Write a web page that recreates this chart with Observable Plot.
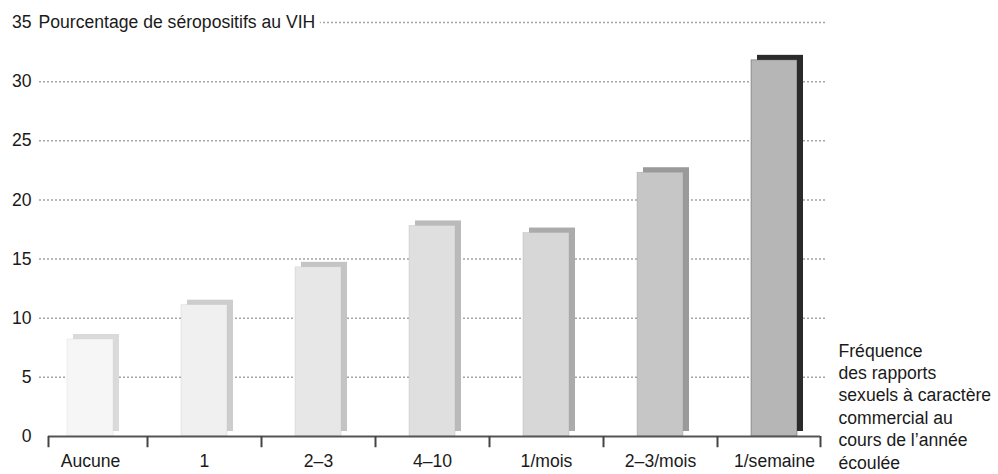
<!DOCTYPE html>
<html>
<head>
<meta charset="utf-8">
<script src="https://cdn.jsdelivr.net/npm/d3@7"></script>
<script src="https://cdn.jsdelivr.net/npm/@observablehq/plot@0.6"></script>
<style>
  html, body { margin: 0; padding: 0; background: #fff; }
  #chart svg { display: block; }
</style>
</head>
<body>
<div id="chart"></div>
<script>
// ---- data ----
const categories = ["Aucune", "1", "2–3", "4–10", "1/mois", "2–3/mois", "1/semaine"];
const values = [8.2, 11.1, 14.3, 17.8, 17.2, 22.3, 31.8];
const yTicks = [0, 5, 10, 15, 20, 25, 30, 35];
const yTitle = "Pourcentage de séropositifs au VIH";
const xTitleLines = ["Fréquence", "des rapports", "sexuels à caractère", "commercial au", "cours de l’année", "écoulée"];

const data = categories.map((c, i) => ({cat: c, value: values[i]}));

// ---- styles ----
const frontFill = ["#f6f6f6", "#f0f0f0", "#e7e7e7", "#dfdfdf", "#d7d7d7", "#c6c6c6", "#b6b6b6"];
const backFill  = ["#dadada", "#cdcdcd", "#c4c4c4", "#bababa", "#ababab", "#9a9a9a", "#2b2b2b"];
const idx = new Map(categories.map((c, i) => [c, i]));
const step = (998 - 33 - 167) / categories.length;
const fs = 17.6;

const chart = Plot.plot({
  width: 998,
  height: 474,
  marginLeft: 33,
  marginRight: 167,
  marginTop: 22,
  marginBottom: 38,
  style: {fontFamily: "'Liberation Sans', Arial, sans-serif", fontSize: fs + "px", color: "#1a1a1a", background: "#fff"},
  x: {domain: categories, paddingInner: 0.6, paddingOuter: 0.3, label: null},
  y: {domain: [0, 35], label: null},
  marks: [
    // dotted grid lines
    Plot.ruleY(yTicks.filter(d => d > 0), {stroke: "#a5a5a5", strokeWidth: 1.5, strokeDasharray: "2,2", insetLeft: 6, insetRight: 4}),
    // title over top grid line
    Plot.text([yTitle], {frameAnchor: "top-left", dx: 5, lineAnchor: "middle", textAnchor: "start",
      fontSize: fs, fill: "#1a1a1a", stroke: "white", strokeWidth: 12}),
    // back face (3D depth)
    Plot.barY(data, {x: "cat", y: "value", dx: 6, dy: -5, fill: d => backFill[idx.get(d.cat)]}),
    // front face
    Plot.barY(data, {x: "cat", y: "value", fill: d => frontFill[idx.get(d.cat)], stroke: d => backFill[idx.get(d.cat)], strokeWidth: 0.6, strokeOpacity: 0.6}),
    // baseline
    Plot.ruleY([0], {stroke: "#555", strokeWidth: 2, insetLeft: 15, insetRight: 11}),
    // boundary ticks
    Plot.ruleX(categories.slice(1), {x: d => d, dx: -step / 2, y1: 0, y2: -0.95, stroke: "#444", strokeWidth: 2}),
    Plot.ruleX([categories[0]], {x: d => d, dx: -42, y1: 0, y2: -0.95, stroke: "#444", strokeWidth: 2}),
    Plot.ruleX([categories[categories.length - 1]], {x: d => d, dx: 46, y1: 0, y2: -0.95, stroke: "#444", strokeWidth: 2}),
    // axes
    Plot.axisY({ticks: yTicks, tickSize: 0, tickPadding: 2, fontSize: fs, label: null}),
    Plot.axisX({tickSize: 0, tickPadding: 18, fontSize: fs, label: null}),
    // x title at right
    Plot.text([xTitleLines.join("\n")], {frameAnchor: "bottom-right", dx: 7, dy: 32, textAnchor: "start", lineAnchor: "bottom", lineHeight: 1.27, fontSize: fs, fill: "#1a1a1a"})
  ]
});

document.getElementById("chart").appendChild(chart);
</script>
</body>
</html>
